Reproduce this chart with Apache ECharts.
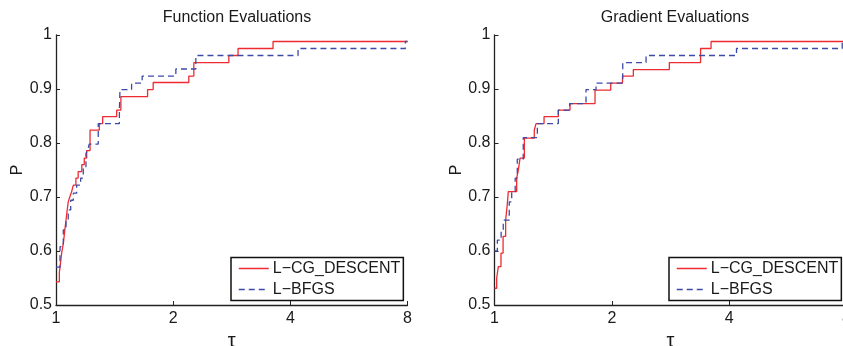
<!DOCTYPE html>
<html>
<head>
<meta charset="utf-8">
<script src="https://cdn.jsdelivr.net/npm/echarts@6/dist/echarts.min.js"></script>
<style>
html,body{margin:0;padding:0;background:#fff;}
#chart{width:843px;height:346px;}
</style>
</head>
<body>
<div id="chart"></div>
<script>
// Performance profile data: [tau, P] at each jump (step function)
var titles = ['Function Evaluations', 'Gradient Evaluations'];
var seriesNames = ['L\u2212CG_DESCENT', 'L\u2212BFGS'];
var xTicks = [1, 2, 4, 8];
var yTicks = [0.5, 0.6, 0.7, 0.8, 0.9, 1];

var funcCG = [
  [1, 0.543], [1.020, 0.560], [1.027, 0.578], [1.034, 0.596], [1.045, 0.615],
  [1.052, 0.635], [1.061, 0.657], [1.068, 0.675], [1.075, 0.691], [1.085, 0.700],
  [1.097, 0.710], [1.108, 0.722], [1.125, 0.735], [1.140, 0.747], [1.165, 0.760],
  [1.182, 0.772], [1.199, 0.786], [1.223, 0.824], [1.292, 0.836], [1.318, 0.849],
  [1.432, 0.861], [1.468, 0.886], [1.719, 0.899], [1.777, 0.912], [2.194, 0.924],
  [2.260, 0.949], [2.780, 0.962], [2.936, 0.975], [3.611, 0.988], [8, 0.988]
];
var funcBFGS = [
  [1, 0.570], [1.024, 0.608], [1.044, 0.639], [1.061, 0.657], [1.075, 0.676],
  [1.091, 0.694], [1.108, 0.707], [1.130, 0.722], [1.157, 0.735], [1.175, 0.756],
  [1.194, 0.781], [1.206, 0.786], [1.217, 0.798], [1.284, 0.836], [1.455, 0.861],
  [1.460, 0.899], [1.564, 0.911], [1.665, 0.924], [2.032, 0.937], [2.287, 0.962],
  [4.187, 0.975], [7.90, 0.988], [8, 0.988]
];
var gradCG = [
  [1, 0.531], [1.013, 0.550], [1.023, 0.571], [1.039, 0.596], [1.052, 0.627],
  [1.068, 0.657], [1.078, 0.685], [1.085, 0.710], [1.140, 0.735], [1.150, 0.748],
  [1.163, 0.772], [1.193, 0.809], [1.265, 0.824], [1.278, 0.836], [1.340, 0.849],
  [1.458, 0.861], [1.562, 0.873], [1.811, 0.898], [1.987, 0.911], [2.130, 0.924],
  [2.271, 0.936], [2.809, 0.949], [3.378, 0.975], [3.594, 0.988], [8, 0.988]
];
var gradBFGS = [
  [1, 0.600], [1.017, 0.620], [1.040, 0.640], [1.053, 0.657], [1.091, 0.691],
  [1.107, 0.710], [1.130, 0.735], [1.144, 0.770], [1.185, 0.810], [1.288, 0.836],
  [1.458, 0.861], [1.559, 0.873], [1.717, 0.899], [1.822, 0.911], [2.133, 0.949],
  [2.448, 0.962], [4.177, 0.975], [7.80, 0.988], [8, 0.988]
];

var FONT = "'Liberation Sans', Arial, Helvetica, sans-serif";
var TXT = '#1a1a1a';
var RED = '#ee2b30';
var BLUE = '#3c4aa8';

var grids = [
  {left: 56, top: 35, width: 351.5, height: 270, outerBoundsMode: 'none', containLabel: false},
  {left: 494.5, top: 35, width: 352, height: 270, outerBoundsMode: 'none', containLabel: false}
];

function xAxisCfg(i) {
  return {
    gridIndex: i, type: 'log', logBase: 2, min: 1, max: 8,
    name: '\u03c4', nameLocation: 'middle', nameGap: 20,
    nameTextStyle: {fontFamily: FONT, fontSize: 20, color: TXT},
    axisLine: {lineStyle: {color: '#222', width: 1.3}},
    axisTick: {inside: true, length: 4, lineStyle: {color: '#222'}},
    axisLabel: {fontFamily: FONT, fontSize: 16, color: TXT, margin: 6,
      showMinLabel: true, showMaxLabel: true,
      formatter: function (v) { return String(Math.round(v)); }},
    splitLine: {show: false}
  };
}
function yAxisCfg(i) {
  return {
    gridIndex: i, type: 'value', min: yTicks[0], max: yTicks[yTicks.length - 1], interval: 0.1,
    name: 'P', nameLocation: 'middle', nameGap: 27,
    nameTextStyle: {fontFamily: FONT, fontSize: 16, color: TXT},
    axisLine: {show: true, lineStyle: {color: '#222', width: 1.3}},
    axisTick: {show: true, inside: true, length: 4, lineStyle: {color: '#222'}},
    axisLabel: {fontFamily: FONT, fontSize: 16, color: TXT, margin: 4,
      formatter: function (v) { return String(Math.round(v * 10) / 10); }},
    splitLine: {show: false}
  };
}
function lineSeries(name, data, i, dashed) {
  return {
    name: name, type: 'line', step: 'end', xAxisIndex: i, yAxisIndex: i,
    data: data, symbol: 'none', animation: false,
    lineStyle: {color: dashed ? BLUE : RED, width: 1.3, type: dashed ? [6, 4] : 'solid'},
    itemStyle: {color: dashed ? BLUE : RED}
  };
}
function legendCfg(left) {
  return {
    data: seriesNames, orient: 'vertical', left: left, top: 257.5,
    itemWidth: 30, itemHeight: 14, itemGap: 5,
    padding: [3, 3, 3, 7],
    borderColor: '#111', borderWidth: 1.5, backgroundColor: '#fff',
    selectedMode: false,
    itemStyle: {opacity: 0},
    lineStyle: {width: 1.5},
    textStyle: {fontFamily: FONT, fontSize: 16, color: TXT, padding: [0, 0, 0, -1]}
  };
}

var chart = echarts.init(document.getElementById('chart'), null, {renderer: 'canvas'});
chart.setOption({
  backgroundColor: '#fff',
  animation: false,
  title: [
    {text: titles[0], left: 232, top: 5, textAlign: 'center',
     textStyle: {fontFamily: FONT, fontSize: 16, fontWeight: 'normal', color: TXT}},
    {text: titles[1], left: 670, top: 5, textAlign: 'center',
     textStyle: {fontFamily: FONT, fontSize: 16, fontWeight: 'normal', color: TXT}}
  ],
  grid: grids,
  xAxis: [xAxisCfg(0), xAxisCfg(1)],
  yAxis: [yAxisCfg(0), yAxisCfg(1)],
  legend: [legendCfg(231), legendCfg(669)],
  series: [
    lineSeries(seriesNames[0], funcCG, 0, false),
    lineSeries(seriesNames[1], funcBFGS, 0, true),
    lineSeries(seriesNames[0], gradCG, 1, false),
    lineSeries(seriesNames[1], gradBFGS, 1, true)
  ]
});
</script>
</body>
</html>
